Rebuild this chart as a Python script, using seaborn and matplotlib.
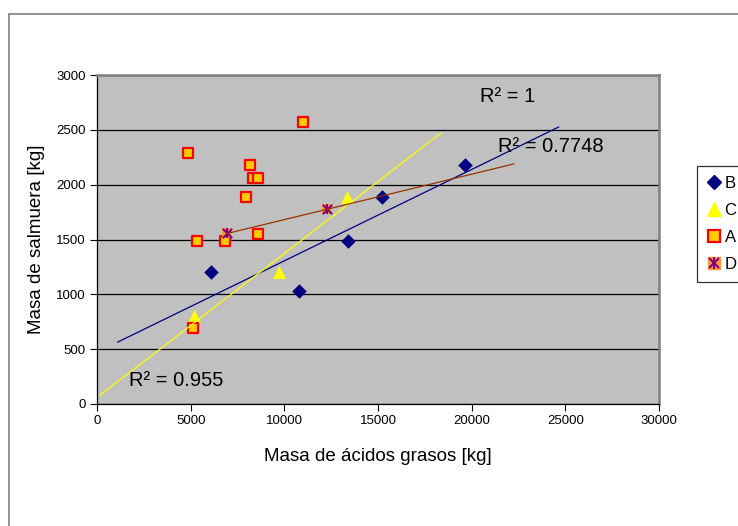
import numpy as np
import pandas as pd
import matplotlib
matplotlib.use("Agg")
import matplotlib.pyplot as plt
import seaborn as sns
from matplotlib.lines import Line2D
from matplotlib.legend_handler import HandlerTuple
from matplotlib.patches import Rectangle

# ---- data ----
B_x = [6100, 10800, 13400, 15200, 19650]
B_y = [1200, 1030, 1490, 1890, 2180]
C_x = [5180, 9730, 13360]
C_y = [800, 1200, 1890]
A_x = [4870, 10980, 5320, 6850, 7930, 8170, 8310, 8610, 8610, 5140]
A_y = [2285, 2575, 1490, 1490, 1890, 2180, 2065, 2065, 1550, 690]
D_x = [6950, 12260]
D_y = [1555, 1775]

x_ticks = [0, 5000, 10000, 15000, 20000, 25000, 30000]
y_ticks = [0, 500, 1000, 1500, 2000, 2500, 3000]
r2_labels = ["R² = 1", "R² = 0.7748", "R² = 0.955"]

sns.set_theme(style="white")
plt.rcParams["font.family"] = ["Liberation Sans", "DejaVu Sans"]
plt.rcParams["text.color"] = "black"
plt.rcParams["axes.labelcolor"] = "black"

fig = plt.figure(figsize=(7.38, 5.26), dpi=100)
ax = fig.add_axes([97 / 738, 1 - 404 / 526, (659 - 97) / 738, (404 - 75) / 526])
ax.set_facecolor("#C0C0C0")

# markers
sns.scatterplot(x=B_x, y=B_y, ax=ax, marker="D", s=55, color="#000080",
                edgecolor="#000080", linewidth=0, zorder=3)
sns.scatterplot(x=C_x, y=C_y, ax=ax, marker="^", s=90, color="#FFFF00",
                edgecolor="#FFFF00", linewidth=0, zorder=3)
sns.scatterplot(x=A_x, y=A_y, ax=ax, marker="s", s=50, color="#FFCC00",
                edgecolor="#FF0000", linewidth=1.6, zorder=3)
sns.scatterplot(x=D_x, y=D_y, ax=ax, marker="s", s=60, color="#FF9933",
                edgecolor="#FF9933", linewidth=0, zorder=3)
sns.scatterplot(x=D_x, y=D_y, ax=ax, marker="x", s=45, color="#800080",
                linewidth=1.5, zorder=4)
sns.scatterplot(x=D_x, y=D_y, ax=ax, marker="|", s=55, color="#800080",
                linewidth=1.5, zorder=4)

# trend lines (linear fits, with forecast like the original)
def trend(xs, ys, back, fwd, color):
    k, b = np.polyfit(xs, ys, 1)
    xx = np.array([min(xs) - back, max(xs) + fwd])
    sns.lineplot(x=xx, y=k * xx + b, ax=ax, color=color, linewidth=0.9,
                 zorder=5, legend=False)

trend(B_x, B_y, 5000, 5000, "#000080")
trend(C_x, C_y, 5000, 5000, "#FFFF00")
trend(D_x, D_y, 0, 10000, "#993300")

ax.text(21900, 2800, r2_labels[0], fontsize=14.5, ha="center", va="center",
        color="black", zorder=6)
ax.text(24200, 2350, r2_labels[1], fontsize=14.5, ha="center", va="center",
        color="black", zorder=6)
ax.text(4250, 215, r2_labels[2], fontsize=14.5, ha="center", va="center",
        color="black", zorder=6)

ax.set_xlim(0, 30000)
ax.set_ylim(0, 3000)
ax.set_xticks(x_ticks)
ax.set_yticks(y_ticks)
ax.set_xticklabels([str(t) for t in x_ticks], fontsize=9.5)
ax.set_yticklabels([str(t) for t in y_ticks], fontsize=9.5)
ax.tick_params(axis="both", which="major", direction="out", length=5, width=0.8,
               color="black", left=True, bottom=True, pad=3, labelcolor="black")
ax.yaxis.grid(True, color="black", linewidth=0.9)
ax.xaxis.grid(False)
ax.set_axisbelow(True)
for side in ["left", "bottom"]:
    ax.spines[side].set_color("black")
    ax.spines[side].set_linewidth(0.9)
for side in ["top", "right"]:
    ax.spines[side].set_color("#808080")
    ax.spines[side].set_linewidth(1.8)

ax.set_xlabel("Masa de ácidos grasos [kg]", fontsize=13.5, labelpad=15, color="black")
ax.set_ylabel("Masa de salmuera [kg]", fontsize=13.5, labelpad=8, color="black")

# legend
hB = Line2D([], [], marker="D", color="#000080", linestyle="none", markersize=7.5)
hC = Line2D([], [], marker="^", color="#FFFF00", linestyle="none", markersize=10)
hA = Line2D([], [], marker="s", markerfacecolor="#FFCC00", markeredgecolor="#FF0000",
            markeredgewidth=1.6, linestyle="none", markersize=8)
hD1 = Line2D([], [], marker="s", color="#FF9933", linestyle="none", markersize=8.5)
hD2 = Line2D([], [], marker="x", color="#800080", markeredgewidth=1.5,
             linestyle="none", markersize=7)
hD3 = Line2D([], [], marker="|", color="#800080", markeredgewidth=1.5,
             linestyle="none", markersize=8.5)
leg = fig.legend([hB, hC, hA, (hD1, hD2, hD3)], ["B", "C", "A", "D"],
                 loc="upper left", bbox_to_anchor=(697 / 738, 1 - 166 / 526),
                 fontsize=12, frameon=True, fancybox=False, handlelength=0.8,
                 handletextpad=0.25, borderpad=0.6, labelspacing=0.72,
                 borderaxespad=0, handler_map={tuple: HandlerTuple(ndivide=1)})
leg.get_frame().set_edgecolor("black")
leg.get_frame().set_linewidth(0.9)
leg.get_frame().set_facecolor("white")
for t in leg.get_texts():
    t.set_color("black")

# outer chart border
fig.patches.append(Rectangle((8.5 / 738, -0.1), 1.2, 1.1 - 13.5 / 526,
                             transform=fig.transFigure, fill=False,
                             edgecolor="#808080", linewidth=1.2))

fig.savefig("out.png", dpi=100)
